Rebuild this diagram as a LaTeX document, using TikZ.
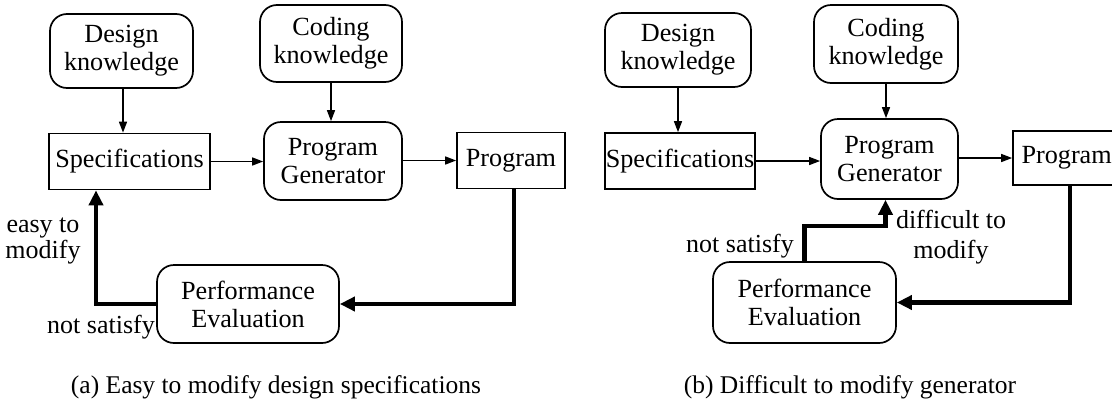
\documentclass[tikz,border=0pt]{standalone}
\usepackage{fontspec}
\setmainfont{Liberation Serif}
\usetikzlibrary{arrows.meta,calc}
\begin{document}
\begin{tikzpicture}[x=1pt,y=-1pt,
  box/.style={draw, line width=1.7pt, inner sep=0pt, align=center,
    font=\fontsize{26.2}{28}\selectfont},
  rbox/.style={box, rounded corners=17pt},
  lbl/.style={inner sep=0pt, font=\fontsize{26}{28}\selectfont},
  captext/.style={inner sep=0pt, font=\fontsize{25.5}{28}\selectfont},
  flow/.style={line width=1.5pt, -{Triangle[length=11pt,width=8pt]}},
  loop/.style={line width=4.5pt, -{Triangle[length=15pt,width=14pt]}},
]
\useasboundingbox (0,0) rectangle (1112,405);
\clip (0,0) rectangle (1112,405);

% ---- (a) easy to modify the design specifications ----
\node[rbox, minimum width=143pt, minimum height=74pt] (dk1) at (121.5,51) {Design\\knowledge};
\node[rbox, minimum width=142pt, minimum height=77pt] (ck1) at (331,43.5) {Coding\\knowledge};
\node[box, minimum width=161pt, minimum height=56pt] (spec1) at (129.5,161.5) {Specifications};
\node[rbox, minimum width=138pt, minimum height=78pt] (gen1) at (333,161) {Program\\Generator};
\node[box, minimum width=108pt, minimum height=56pt] (prog1) at (511,160.5) {Program};
\node[rbox, minimum width=182pt, minimum height=78pt] (perf1) at (248,304) {Performance\\Evaluation};

\draw[flow] ([xshift=1.5pt]dk1.south) -- ([xshift=1.5pt]dk1.south |- spec1.north);
\draw[flow] (ck1.south) -- (ck1.south |- gen1.north);
\draw[flow] (spec1.east) -- (spec1.east -| gen1.west);
\draw[flow] (gen1.east |- prog1.west) -- (prog1.west);
\draw[loop] ([xshift=3pt]prog1.south) |- (perf1.east);
\draw[loop] (perf1.west) -| ([xshift=-33.5pt]spec1.south);

\node[lbl, anchor=base] (ea1) at (43,232) {easy to};
\node[lbl, anchor=base] (ea2) at (43,258) {modify};
\node[lbl, anchor=base east] (ns1) at (155,333) {not satisfy};
\node[captext, anchor=base] (capa) at (276,393) {(a) Easy to modify design specifications};

% ---- (b) difficult to modify the generator ----
\node[rbox, minimum width=146pt, minimum height=74pt] (dk2) at (678,50) {Design\\knowledge};
\node[rbox, minimum width=144pt, minimum height=78pt] (ck2) at (886,44) {Coding\\knowledge};
\node[box, minimum width=150pt, minimum height=56pt] (spec2) at (680,161) {Specifications};
\node[rbox, minimum width=137pt, minimum height=80pt] (gen2) at (889.5,159) {Program\\Generator};
\node[box, minimum width=110pt, minimum height=54pt, text width=93pt, align=left]
  (prog2) at (1068,158) {Program};
\node[rbox, minimum width=183pt, minimum height=81pt] (perf2) at (804.5,302.5) {Performance\\Evaluation};

\draw[flow] (dk2.south) -- (dk2.south |- spec2.north);
\draw[flow] (ck2.south) -- (ck2.south |- gen2.north);
\draw[flow] (spec2.east) -- (spec2.east -| gen2.west);
\draw[flow] (gen2.east |- prog2.west) -- (prog2.west);
\draw[loop] ([xshift=2pt]prog2.south) |- (perf2.east);
\draw[loop] (perf2.north) -- ++(0,-35) -| ([xshift=-4pt]gen2.south);

\node[lbl, anchor=base east] (ns2) at (794,252) {not satisfy};
\node[lbl, anchor=base] (dm1) at (951,228) {difficult to};
\node[lbl, anchor=base] (dm2) at (951,258) {modify};
\node[captext, anchor=base] (capb) at (850,393) {(b) Difficult to modify generator};
\end{tikzpicture}
\end{document}
